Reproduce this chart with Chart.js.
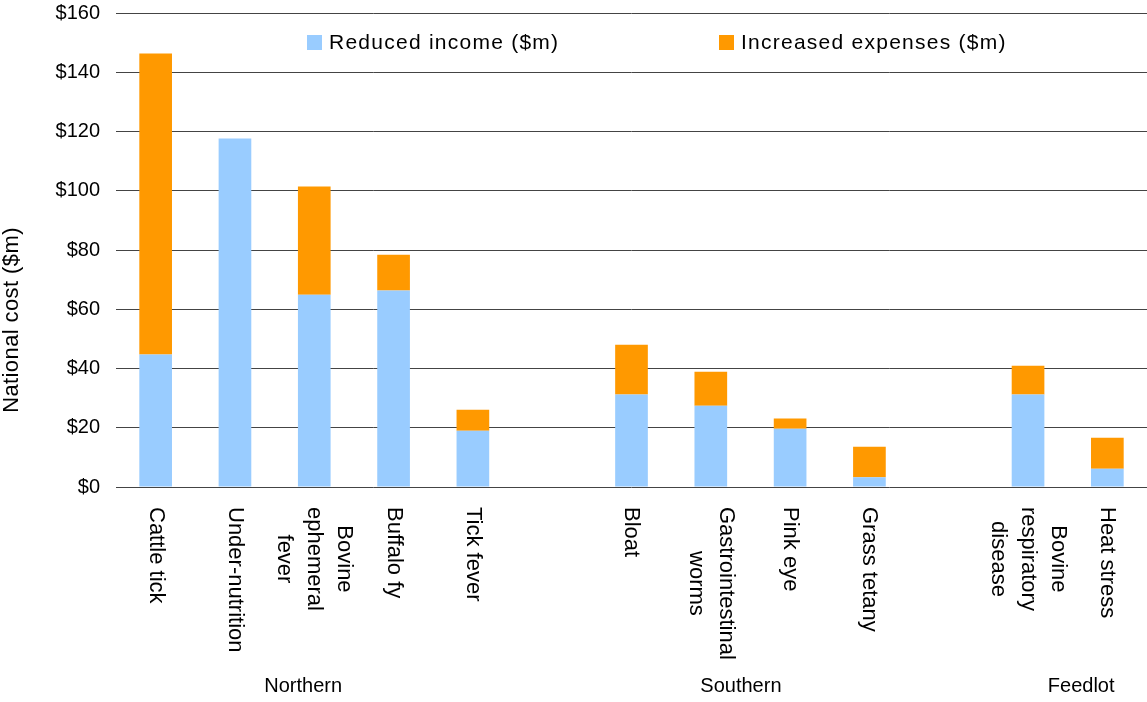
<!DOCTYPE html>
<html>
<head>
<meta charset="utf-8">
<script src="https://cdn.jsdelivr.net/npm/chart.js@4"></script>
<style>
  html, body { margin: 0; padding: 0; background: #fff; }
  #wrap { width: 1147px; height: 702px; }
</style>
</head>
<body>
<div id="wrap"><canvas id="c" width="1147" height="702"></canvas></div>
<script>
const categories = [
  ['Cattle tick'], ['Under-nutrition'], ['Bovine', 'ephemeral', 'fever'], ['Buffalo fy'], ['Tick fever'],
  [''],
  ['Bloat'], ['Gastrointestinal', 'worms'], ['Pink eye'], ['Grass tetany'],
  [''],
  ['Bovine', 'respiratory', 'disease'], ['Heat stress']
];
const reducedIncome     = [44.7, 117.6, 64.9, 66.3, 19.0, null, 31.2, 27.4, 19.7, 3.3, null, 31.2, 6.2];
const increasedExpenses = [101.6, 0,    36.5, 12.1, 7.1,  null, 16.8, 11.5, 3.4, 10.3, null, 9.7, 10.4];
const seriesNames = ['Reduced income ($m)', 'Increased expenses ($m)'];
const groupNames = ['Northern', 'Southern', 'Feedlot'];
const yTicks = [0, 20, 40, 60, 80, 100, 120, 140, 160];
const yTitle = 'National cost ($m)';

const FONT = '"Liberation Sans", Arial, sans-serif';
const colors = ['#99CCFF', '#FF9900'];

const customText = {
  id: 'customText',
  afterDraw(chart) {
    const ctx = chart.ctx;
    const xs = chart.scales.x;
    ctx.save();
    ctx.fillStyle = '#000';

    // category labels, rotated clockwise
    ctx.font = '22px ' + FONT;
    ctx.textAlign = 'center';
    ctx.textBaseline = 'middle';
    const lineH = 30;
    chart.data.labels.forEach((lines, i) => {
      const x = xs.getPixelForValue(i);
      const maxW = Math.max(...lines.map(l => ctx.measureText(l).width));
      ctx.save();
      ctx.translate(x, 507);
      ctx.rotate(Math.PI / 2);
      const n = lines.length;
      lines.forEach((l, k) => {
        ctx.fillText(l, maxW / 2, (k - (n - 1) / 2) * lineH);
      });
      ctx.restore();
    });

    // group labels
    ctx.font = '20px ' + FONT;
    const groupPos = [1.86, 7.38, 11.67];
    groupNames.forEach((g, i) => {
      ctx.fillText(g, xs.getPixelForValue(groupPos[i]), 686);
    });

    // y axis title
    ctx.save();
    ctx.font = '22px ' + FONT;
    ctx.letterSpacing = '0.4px';
    ctx.translate(12, 320);
    ctx.rotate(-Math.PI / 2);
    ctx.fillText(yTitle, 0, 0);
    ctx.restore();

    // legend
    ctx.font = '21px ' + FONT;
    ctx.letterSpacing = '1.25px';
    ctx.textAlign = 'left';
    const legendX = [307, 719];
    chart.data.datasets.forEach((ds, i) => {
      ctx.fillStyle = ds.backgroundColor;
      ctx.fillRect(legendX[i], 35, 15, 15);
      ctx.fillStyle = '#000';
      ctx.fillText(ds.label, legendX[i] + 22, 43);
    });
    ctx.restore();
  }
};

new Chart(document.getElementById('c'), {
  type: 'bar',
  data: {
    labels: categories,
    datasets: [
      { label: seriesNames[0], data: reducedIncome, backgroundColor: colors[0], borderWidth: 0 },
      { label: seriesNames[1], data: increasedExpenses, backgroundColor: colors[1], borderWidth: 0 }
    ]
  },
  options: {
    responsive: false,
    animation: false,
    devicePixelRatio: 1,
    layout: { padding: { top: 0, right: 0, left: 0, bottom: 0 } },
    plugins: { legend: { display: false }, tooltip: { enabled: false } },
    datasets: { bar: { categoryPercentage: 1, barPercentage: 0.412 } },
    scales: {
      x: {
        stacked: true,
        grid: { display: false },
        border: { display: false },
        ticks: { display: false },
        afterFit(s) { s.height = 215; }
      },
      y: {
        stacked: true,
        min: 0, max: 160,
        afterBuildTicks(s) { s.ticks = yTicks.map(v => ({ value: v })); },
        grid: { color: '#444', lineWidth: 1, drawTicks: false },
        border: { display: false },
        ticks: {
          padding: 16,
          color: '#000',
          font: { family: FONT, size: 20, lineHeight: 1.0 },
          callback: v => '$' + v
        },
        afterFit(s) { s.width = 116; s.paddingTop = 13; }
      }
    }
  },
  plugins: [customText]
});
</script>
</body>
</html>
